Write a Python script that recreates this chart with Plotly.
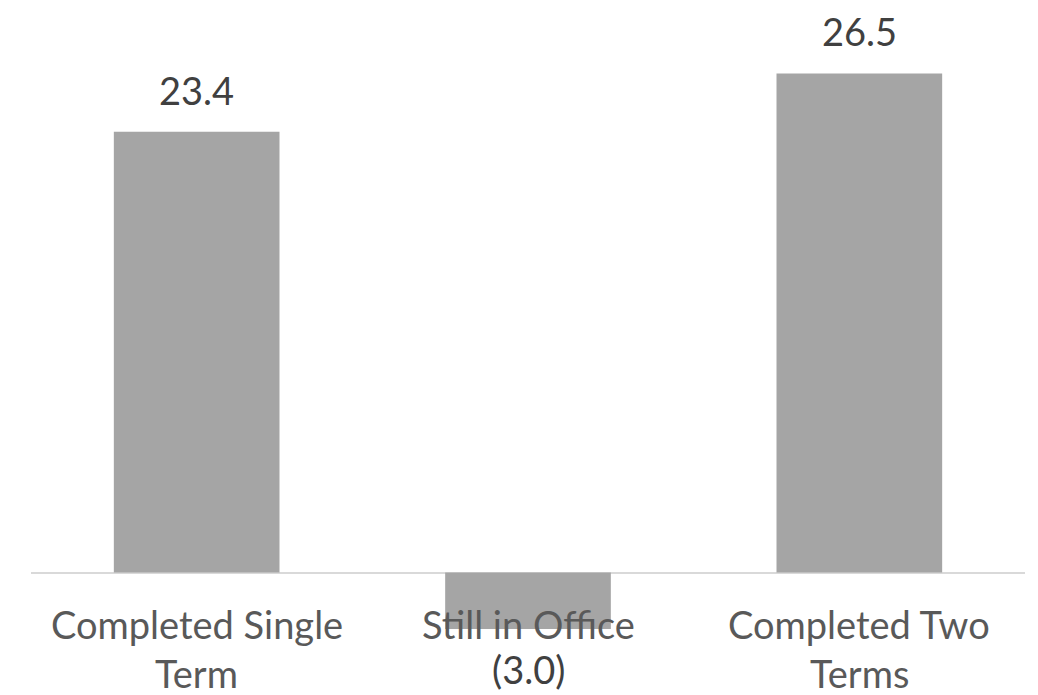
import plotly.graph_objects as go

# Average change by presidential outcome
categories = [["Completed Single", "Term"], ["Still in Office"], ["Completed Two", "Terms"]]
values = [23.4, -3.0, 26.5]
value_labels = ["23.4", "(3.0)", "26.5"]

bar_color = "#A5A5A5"
font_family = "Lato, 'Open Sans', sans-serif"
font_size = 38

fig = go.Figure()
fig.add_trace(go.Bar(
    x=list(range(len(values))),
    y=values,
    marker=dict(color=bar_color, line=dict(width=0)),
    hoverinfo="skip",
))

# value labels: above positive bars, below negative bars
for i, (v, lab) in enumerate(zip(values, value_labels)):
    if v >= 0:
        fig.add_annotation(x=i, y=v, text=lab, showarrow=False, xref="x", yref="y",
                           yanchor="middle", yshift=42,
                           font=dict(family=font_family, size=font_size, color="#404040"))
    else:
        fig.add_annotation(x=i, y=0, text=lab, showarrow=False, xref="x", yref="y",
                           yanchor="middle", yshift=-96,
                           font=dict(family=font_family, size=font_size, color="#404040"))

# category labels under the baseline, one annotation per line
for i, lines in enumerate(categories):
    for j, line in enumerate(lines):
        fig.add_annotation(x=i, y=0, text=line, showarrow=False, xref="x", yref="y",
                           yanchor="middle", yshift=-51 - 49 * j,
                           font=dict(family=font_family, size=font_size, color="#595959"))

fig.update_layout(
    width=1038, height=695,
    margin=dict(l=31, r=13, t=20, b=10),
    paper_bgcolor="white", plot_bgcolor="white",
    bargap=0.5,
    showlegend=False,
    xaxis=dict(range=[-0.5, 2.5], showticklabels=False, showgrid=False,
               zeroline=False, showline=False, ticks=""),
    yaxis=dict(range=[-5.97, 29.34], showticklabels=False, showgrid=False,
               zeroline=True, zerolinecolor="#D9D9D9", zerolinewidth=2,
               showline=False, ticks=""),
)

fig.write_html("out.html")
